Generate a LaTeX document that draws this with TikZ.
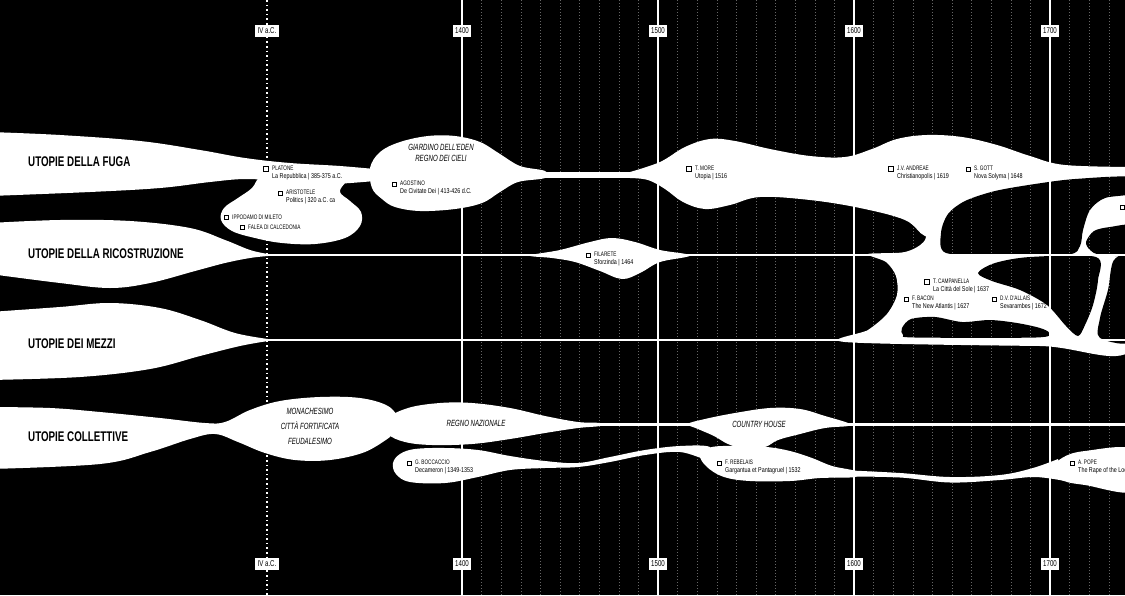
\documentclass[tikz,border=0pt]{standalone}
\usepackage{fontspec}
\newfontfamily\titf{Liberation Sans}[FakeStretch=0.7]
\newfontfamily\capf{Liberation Sans}[FakeStretch=0.72]
\newfontfamily\lowf{Liberation Sans}[FakeStretch=0.77]
\newfontfamily\itf{Liberation Sans}[FakeStretch=0.68]
\newcommand\utentry[7]{%
  \node[#4] (#1c) at (#2,#3) {};
  \node[capl] (#1a) at (#2+6,#3-0.5) {#5};
  \node[lowl] (#1b) at (#2+6,#3+7.5) {#6};
}
\begin{document}
\begin{tikzpicture}[x=1pt,y=-1pt,
  wsh/.style={fill=white,draw=none},
  bsh/.style={fill=black,draw=none},
  hline/.style={draw=white,line width=2.5pt},
  dec/.style={draw=white,opacity=0.4,line width=0.45pt,dash pattern=on 1pt off 2pt},
  cent/.style={draw=white,line width=1.3pt},
  ivl/.style={draw=white,line width=1.6pt,dash pattern=on 1.6pt off 3pt},
  yr/.style={fill=white,text=black,inner xsep=2.5pt,inner ysep=1.5pt,minimum height=12pt,font=\capf\fontsize{8.5}{9}\selectfont},
  chk/.style={rectangle,draw=black,line width=0.6pt,fill=white,minimum size=4.2pt,inner sep=0pt},
  chkf/.style={rectangle,draw=black,line width=1.7pt,fill=white,minimum size=5pt,inner sep=0pt},
  capl/.style={anchor=west,inner sep=0pt,text=black,font=\capf\fontsize{6.5}{7}\selectfont},
  lowl/.style={anchor=west,inner sep=0pt,text=black,font=\lowf\fontsize{7}{8}\selectfont},
  ttl/.style={anchor=west,inner sep=0pt,text=black,font=\titf\bfseries\fontsize{14}{16}\selectfont},
  itl/.style={inner sep=0pt,text=black,font=\itf\itshape\fontsize{9}{10}\selectfont}
]
\useasboundingbox (0,0) rectangle (1125,595);
\clip (0,0) rectangle (1125,595);
\fill[black] (0,0) rectangle (1125,595);

% ---------- band 1: utopie della fuga ----------
\fill[wsh] plot[smooth,tension=0.6] coordinates {(-10,132) (60,135) (140,141) (200,150) (245,158) (290,163) (340,166) (385,170)}
  -- plot[smooth,tension=0.6] coordinates {(385,180) (330,184) (280,181) (245,179) (210,182) (160,188) (90,192) (-10,196)} -- cycle;
\fill[wsh] plot[smooth cycle,tension=0.6] coordinates {(262,175) (290,165) (330,167) (356,173) (346,182) (340,192) (350,201) (361,212) (360,226) (345,238) (315,244) (282,243) (255,238) (232,231) (221,220) (224,208) (238,198) (252,188)};
\fill[wsh] plot[smooth cycle,tension=0.6] coordinates {(370,168) (380,152) (400,142) (428,136) (455,136) (480,142) (500,154) (520,166) (545,171) (545,178) (518,182) (500,192) (482,203) (455,209) (420,211) (395,207) (382,199) (372,188)};
\fill[wsh] (520,171.5) rectangle (650,178);
\fill[wsh] plot[smooth,tension=0.6] coordinates {(630,172) (660,162) (685,147) (710,139) (735,141) (770,149) (810,156) (845,157) (872,149) (897,139) (927,135) (962,137) (997,145) (1030,156) (1065,165) (1135,167)}
  -- (1135,200) -- plot[smooth,tension=0.6] coordinates {(1000,205) (960,215) (945,235) (925,236) (905,220) (860,208) (810,200) (760,197) (730,205) (705,209) (683,202) (665,189) (648,180) (630,178)} -- cycle;
% campanella region
\fill[wsh] plot[smooth cycle,tension=0.5] coordinates {(930,212) (990,196) (1080,188) (1135,184) (1135,346) (1040,346) (845,342) (868,330) (887,314) (897,295) (896,276) (886,262) (868,254) (905,252) (925,240)};
\fill[bsh] plot[smooth cycle,tension=0.5] coordinates {(946,253) (941,233) (948,214) (965,201) (995,191) (1035,184) (1075,179) (1135,177) (1135,193) (1105,198) (1090,210) (1083,230) (1080,246) (1068,254.5) (1000,254.5)};
\fill[bsh] plot[smooth cycle,tension=0.5] coordinates {(1086,242) (1094,231) (1110,227) (1135,226) (1135,254.5) (1100,254.5) (1090,250)};
\fill[bsh] plot[smooth cycle,tension=0.5] coordinates {(978,273) (995,263) (1030,257) (1096,257) (1098,280) (1093,305) (1085,325) (1078,336) (1066,326) (1047,305) (1020,290) (992,281)};
\fill[bsh] plot[smooth cycle,tension=0.5] coordinates {(1114,260) (1135,257) (1135,338) (1100,338) (1100,318) (1108,290)};
\fill[bsh] plot[smooth cycle,tension=0.5] coordinates {(902,328) (911,319) (935,317) (962,322) (990,320) (1017,323) (1040,328) (1049,333) (1036,337.5) (915,337.5) (903,335)};

% ---------- band 2 ----------
\fill[wsh] plot[smooth,tension=0.6] coordinates {(-10,223) (60,220) (130,221) (190,228) (225,240) (250,250) (268,254)}
  -- plot[smooth,tension=0.6] coordinates {(268,256) (250,258) (225,263) (195,271) (150,283) (110,288) (60,283) (-10,274)} -- cycle;
\fill[wsh] plot[smooth cycle,tension=0.6] coordinates {(530,255.5) (560,250) (590,242) (612,238) (635,242) (660,250) (690,255.5) (660,262) (640,273) (622,279) (600,271) (575,262) (552,258)};

% ---------- band 3 ----------
\fill[wsh] plot[smooth,tension=0.6] coordinates {(-10,312) (60,307) (110,303) (160,308) (200,320) (235,333) (268,339)}
  -- plot[smooth,tension=0.6] coordinates {(268,341) (240,346) (200,356) (150,369) (80,377) (-10,380)} -- cycle;

% ---------- band 4 ----------
\fill[wsh] plot[smooth,tension=0.6] coordinates {(-10,407) (50,408) (100,412) (160,418) (205,423) (225,422) (250,410) (280,401) (320,397) (360,398) (388,406) (400,420)}
  -- plot[smooth,tension=0.6] coordinates {(390,437) (365,452) (330,460) (295,460) (265,453) (238,442) (215,434) (190,439) (150,452) (100,464) (-10,469)} -- cycle;
\fill[wsh] plot[smooth cycle,tension=0.6] coordinates {(385,420) (408,408) (440,403) (472,403) (510,408) (545,416) (578,422) (600,423) (600,426) (578,428) (545,433) (510,439) (472,444) (432,445) (405,442) (388,434)};
\fill[wsh] plot[smooth cycle,tension=0.6] coordinates {(688,424) (705,419) (735,413) (770,408) (800,409) (825,416) (848,423) (848,426) (825,428) (800,434) (778,440) (765,447) (745,449) (728,444) (714,436) (698,429)};
\fill[wsh] plot[smooth cycle,tension=0.6] coordinates {(700,455) (712,447) (740,446) (767,447) (790,451) (812,458) (832,466) (855,471) (855,477) (820,478) (790,481) (750,481) (724,477) (707,467)};
\fill[wsh] plot[smooth,tension=0.6] coordinates {(840,470) (900,473) (950,477) (1000,475) (1033,468) (1058,459)}
  -- plot[smooth,tension=0.6] coordinates {(1065,481) (1035,477) (1000,480) (950,482.5) (900,477.5) (845,476.5)} -- cycle;
\fill[wsh] plot[smooth cycle,tension=0.6] coordinates {(1050,472) (1062,458) (1085,451) (1135,450) (1135,491) (1085,485) (1064,481)};
\fill[wsh] plot[smooth cycle,tension=0.6] coordinates {(393,463) (400,454) (415,449) (445,448) (478,450) (510,456) (545,461) (578,463) (610,457) (645,450) (680,446) (710,447) (710,460) (680,452) (645,455) (610,462) (578,467) (545,468) (510,470) (478,477) (445,483) (410,482) (396,474)};

% ---------- horizontal lines ----------
\coordinate (h1a) at (255,255); \coordinate (h1b) at (1130,255);
\coordinate (h2a) at (255,340); \coordinate (h2b) at (1130,340);
\coordinate (h3a) at (590,424.5); \coordinate (h3b) at (700,424.5);
\coordinate (h4a) at (830,424.5); \coordinate (h4b) at (1130,424.5);
\draw[hline] (h1a) -- (h1b);
\draw[hline] (h2a) -- (h2b);
\draw[hline] (h3a) -- (h3b);
\draw[hline] (h4a) -- (h4b);

% ---------- grid ----------
\foreach \k in {1,...,34}{%
  \pgfmathtruncatemacro\m{mod(\k,10)}%
  \ifnum\m=0\else\draw[dec] ({462+19.6*\k},0) -- ({462+19.6*\k},595);\fi}
\foreach \xx in {462,658,854,1050} \draw[cent] (\xx,0) -- (\xx,595);
\draw[ivl] (267,0) -- (267,595);

% ---------- year labels ----------
\node[yr] (yivt) at (267,31) {IV a.C.};
\node[yr] (y14t) at (462,31) {1400};
\node[yr] (y15t) at (658,31) {1500};
\node[yr] (y16t) at (854,31) {1600};
\node[yr] (y17t) at (1050,31) {1700};
\node[yr] (yivb) at (267,564) {IV a.C.};
\node[yr] (y14b) at (462,564) {1400};
\node[yr] (y15b) at (658,564) {1500};
\node[yr] (y16b) at (854,564) {1600};
\node[yr] (y17b) at (1050,564) {1700};

% ---------- titles ----------
\node[ttl] (t1) at (28,162) {UTOPIE DELLA FUGA};
\node[ttl] (t2) at (28,254) {UTOPIE DELLA RICOSTRUZIONE};
\node[ttl] (t3) at (28,344) {UTOPIE DEI MEZZI};
\node[ttl] (t4) at (28,437) {UTOPIE COLLETTIVE};

% ---------- italic labels ----------
\node[itl] (g1) at (441,147) {GIARDINO DELL'EDEN};
\node[itl] (g2) at (441,158) {REGNO DEI CIELI};
\node[itl] (m1) at (310,411) {MONACHESIMO};
\node[itl] (m2) at (310,426) {CITTÀ FORTIFICATA};
\node[itl] (m3) at (310,441) {FEUDALESIMO};
\node[itl] (rn) at (476,423) {REGNO NAZIONALE};
\node[itl] (ch) at (759,424) {COUNTRY HOUSE};

% ---------- entries ----------
\utentry{pl}{266}{169}{chkf}{PLATONE}{La Repubblica | 385-375 a.C.}{}
\utentry{ar}{280}{193}{chk}{ARISTOTELE}{Politics | 320 a.C. ca}{}
\node[chk] (ipc) at (226,217) {};
\node[capl] (ipa) at (232,217) {IPPODAMO DI MILETO};
\node[chk] (fac) at (242,227) {};
\node[capl] (faa) at (248,227) {FALEA DI CALCEDONIA};
\utentry{ag}{394}{184}{chk}{AGOSTINO}{De Civitate Dei | 413-426 d.C.}{}
\utentry{mo}{689}{169}{chkf}{T. MORE}{Utopia | 1516}{}
\utentry{an}{891}{169}{chkf}{J.V. ANDREAE}{Christianopolis | 1619}{}
\utentry{go}{968}{169}{chk}{S. GOTT}{Nova Solyma | 1648}{}
\utentry{fi}{588}{255}{chk}{FILARETE}{Sforzinda | 1464}{}
\utentry{ca}{927}{282}{chkf}{T. CAMPANELLA}{La Città del Sole | 1637}{}
\utentry{ba}{906}{299}{chk}{F. BACON}{The New Atlantis | 1627}{}
\utentry{da}{994}{299}{chk}{D.V. D'ALLAIS}{Sevarambes | 1672}{}
\utentry{bo}{409}{463}{chk}{G. BOCCACCIO}{Decameron | 1349-1353}{}
\utentry{re}{719}{463}{chk}{F. REBELAIS}{Gargantua et Pantagruel | 1532}{}
\utentry{po}{1072}{463}{chk}{A. POPE}{The Rape of the Lock}{}
\node[chk] (xx) at (1122,207) {};
\end{tikzpicture}
\end{document}
